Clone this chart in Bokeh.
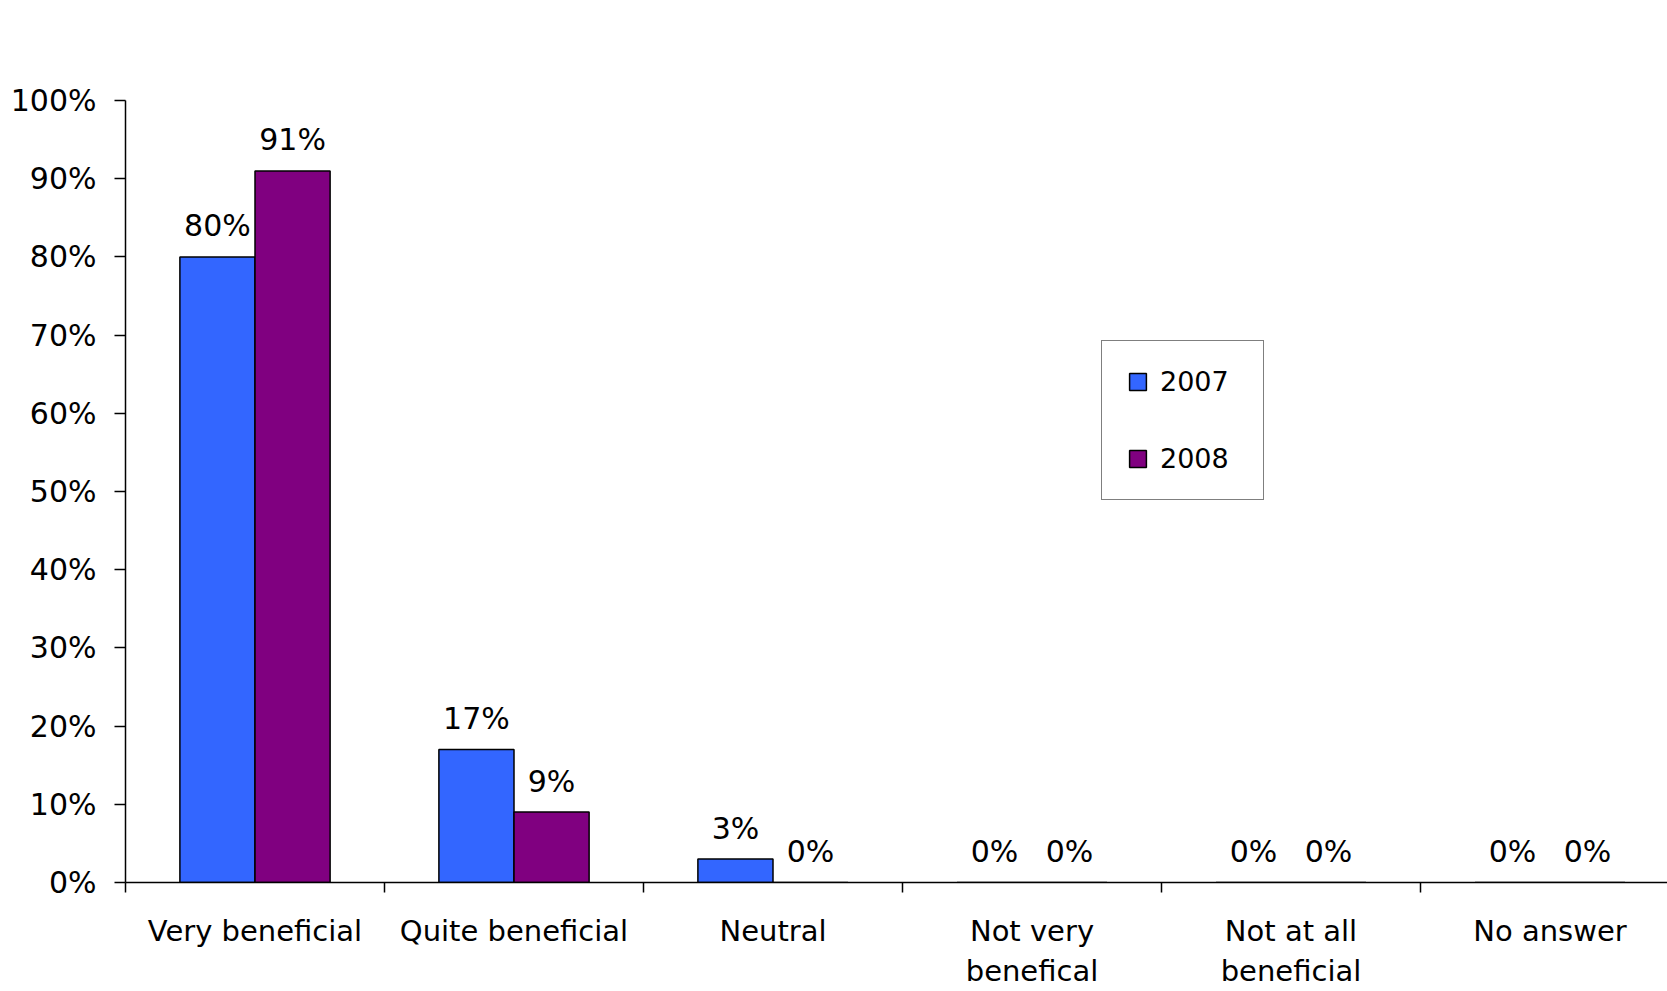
import numpy as np
from bokeh.plotting import figure
from bokeh.models import (ColumnDataSource, Range1d, FixedTicker, PrintfTickFormatter,
                          Legend, LegendItem)
from bokeh.embed import file_html
from bokeh.resources import INLINE
from bokeh.core.properties import value

# ---- data ----
categories = ["Very beneficial", "Quite beneficial", "Neutral",
              "Not very\nbenefical", "Not at all\nbeneficial", "No answer"]
values_2007 = [80, 17, 3, 0, 0, 0]
values_2008 = [91, 9, 0, 0, 0, 0]
series_names = ["2007", "2008"]
y_ticks = [0, 10, 20, 30, 40, 50, 60, 70, 80, 90, 100]

# ---- style ----
FONT = "DejaVu Sans"
FS = "30px"
FS_X = "29px"
BLUE = "#3366FF"
PURPLE = "#800080"
BAR_W = 0.29
CAT_PX = 259.0
FRAME_W = 1542

idx = np.arange(len(categories))
centers = idx + 0.5
boundaries = list(np.arange(len(categories) + 1).astype(float))

src07 = ColumnDataSource(dict(x=centers - BAR_W / 2, top=values_2007,
                              label=[f"{v}%" for v in values_2007]))
src08 = ColumnDataSource(dict(x=centers + BAR_W / 2, top=values_2008,
                              label=[f"{v}%" for v in values_2008]))

p = figure(width=1667, height=991,
           x_range=Range1d(0, FRAME_W / CAT_PX), y_range=Range1d(0, 100),
           output_backend="svg", toolbar_location=None,
           min_border_left=125, min_border_top=100, min_border_bottom=107,
           min_border_right=0)
p.outline_line_color = None
p.xgrid.visible = False
p.ygrid.visible = False
p.background_fill_color = "white"
p.border_fill_color = "white"

r07 = p.vbar(x="x", top="top", width=BAR_W, bottom=0, source=src07,
             fill_color=BLUE, line_color="black", line_width=1.5)
r08 = p.vbar(x="x", top="top", width=BAR_W, bottom=0, source=src08,
             fill_color=PURPLE, line_color="black", line_width=1.5)

for src in (src07, src08):
    p.text(x="x", y="top", text="label", source=src,
           text_font=value(FONT), text_font_size=FS, text_color="black",
           text_align="center", text_baseline="alphabetic", y_offset=-31)

# y axis
ya = p.yaxis[0]
ya.ticker = FixedTicker(ticks=y_ticks)
ya.formatter = PrintfTickFormatter(format="%d%%")
ya.major_tick_out = 11
ya.major_tick_in = 0
ya.minor_tick_line_color = None
ya.major_label_standoff = 18
ya.axis_line_width = 1.5
ya.major_tick_line_width = 1.5
ya.axis_line_color = "black"
ya.major_tick_line_color = "black"
ya.major_label_text_font = FONT
ya.major_label_text_font_size = FS
ya.major_label_text_color = "black"

# x axis
xa = p.xaxis[0]
xa.ticker = FixedTicker(ticks=list(centers), minor_ticks=boundaries)
xa.major_label_overrides = {float(c): lab for c, lab in zip(centers, categories)}
xa.major_tick_line_color = None
xa.major_tick_out = 0
xa.major_tick_in = 0
xa.minor_tick_out = 10
xa.minor_tick_in = 0
xa.minor_tick_line_color = "black"
xa.minor_tick_line_width = 1.5
xa.axis_line_width = 1.5
xa.axis_line_color = "black"
xa.major_label_standoff = 21
xa.major_label_text_font = FONT
xa.major_label_text_font_size = FS_X
xa.major_label_text_color = "black"
xa.major_label_text_line_height = 1.2

legend = Legend(items=[LegendItem(label=series_names[0], renderers=[r07]),
                       LegendItem(label=series_names[1], renderers=[r08])],
                location=(976, 382), orientation="vertical",
                label_text_font=FONT, label_text_font_size="27px",
                label_text_color="black",
                glyph_width=21, glyph_height=21, label_height=30,
                label_width=78, label_standoff=12, spacing=46,
                padding=25, margin=0,
                border_line_color="black", border_line_width=1,
                background_fill_color="white", background_fill_alpha=1.0)
p.add_layout(legend)

open("out.html", "w").write(file_html(p, INLINE))
